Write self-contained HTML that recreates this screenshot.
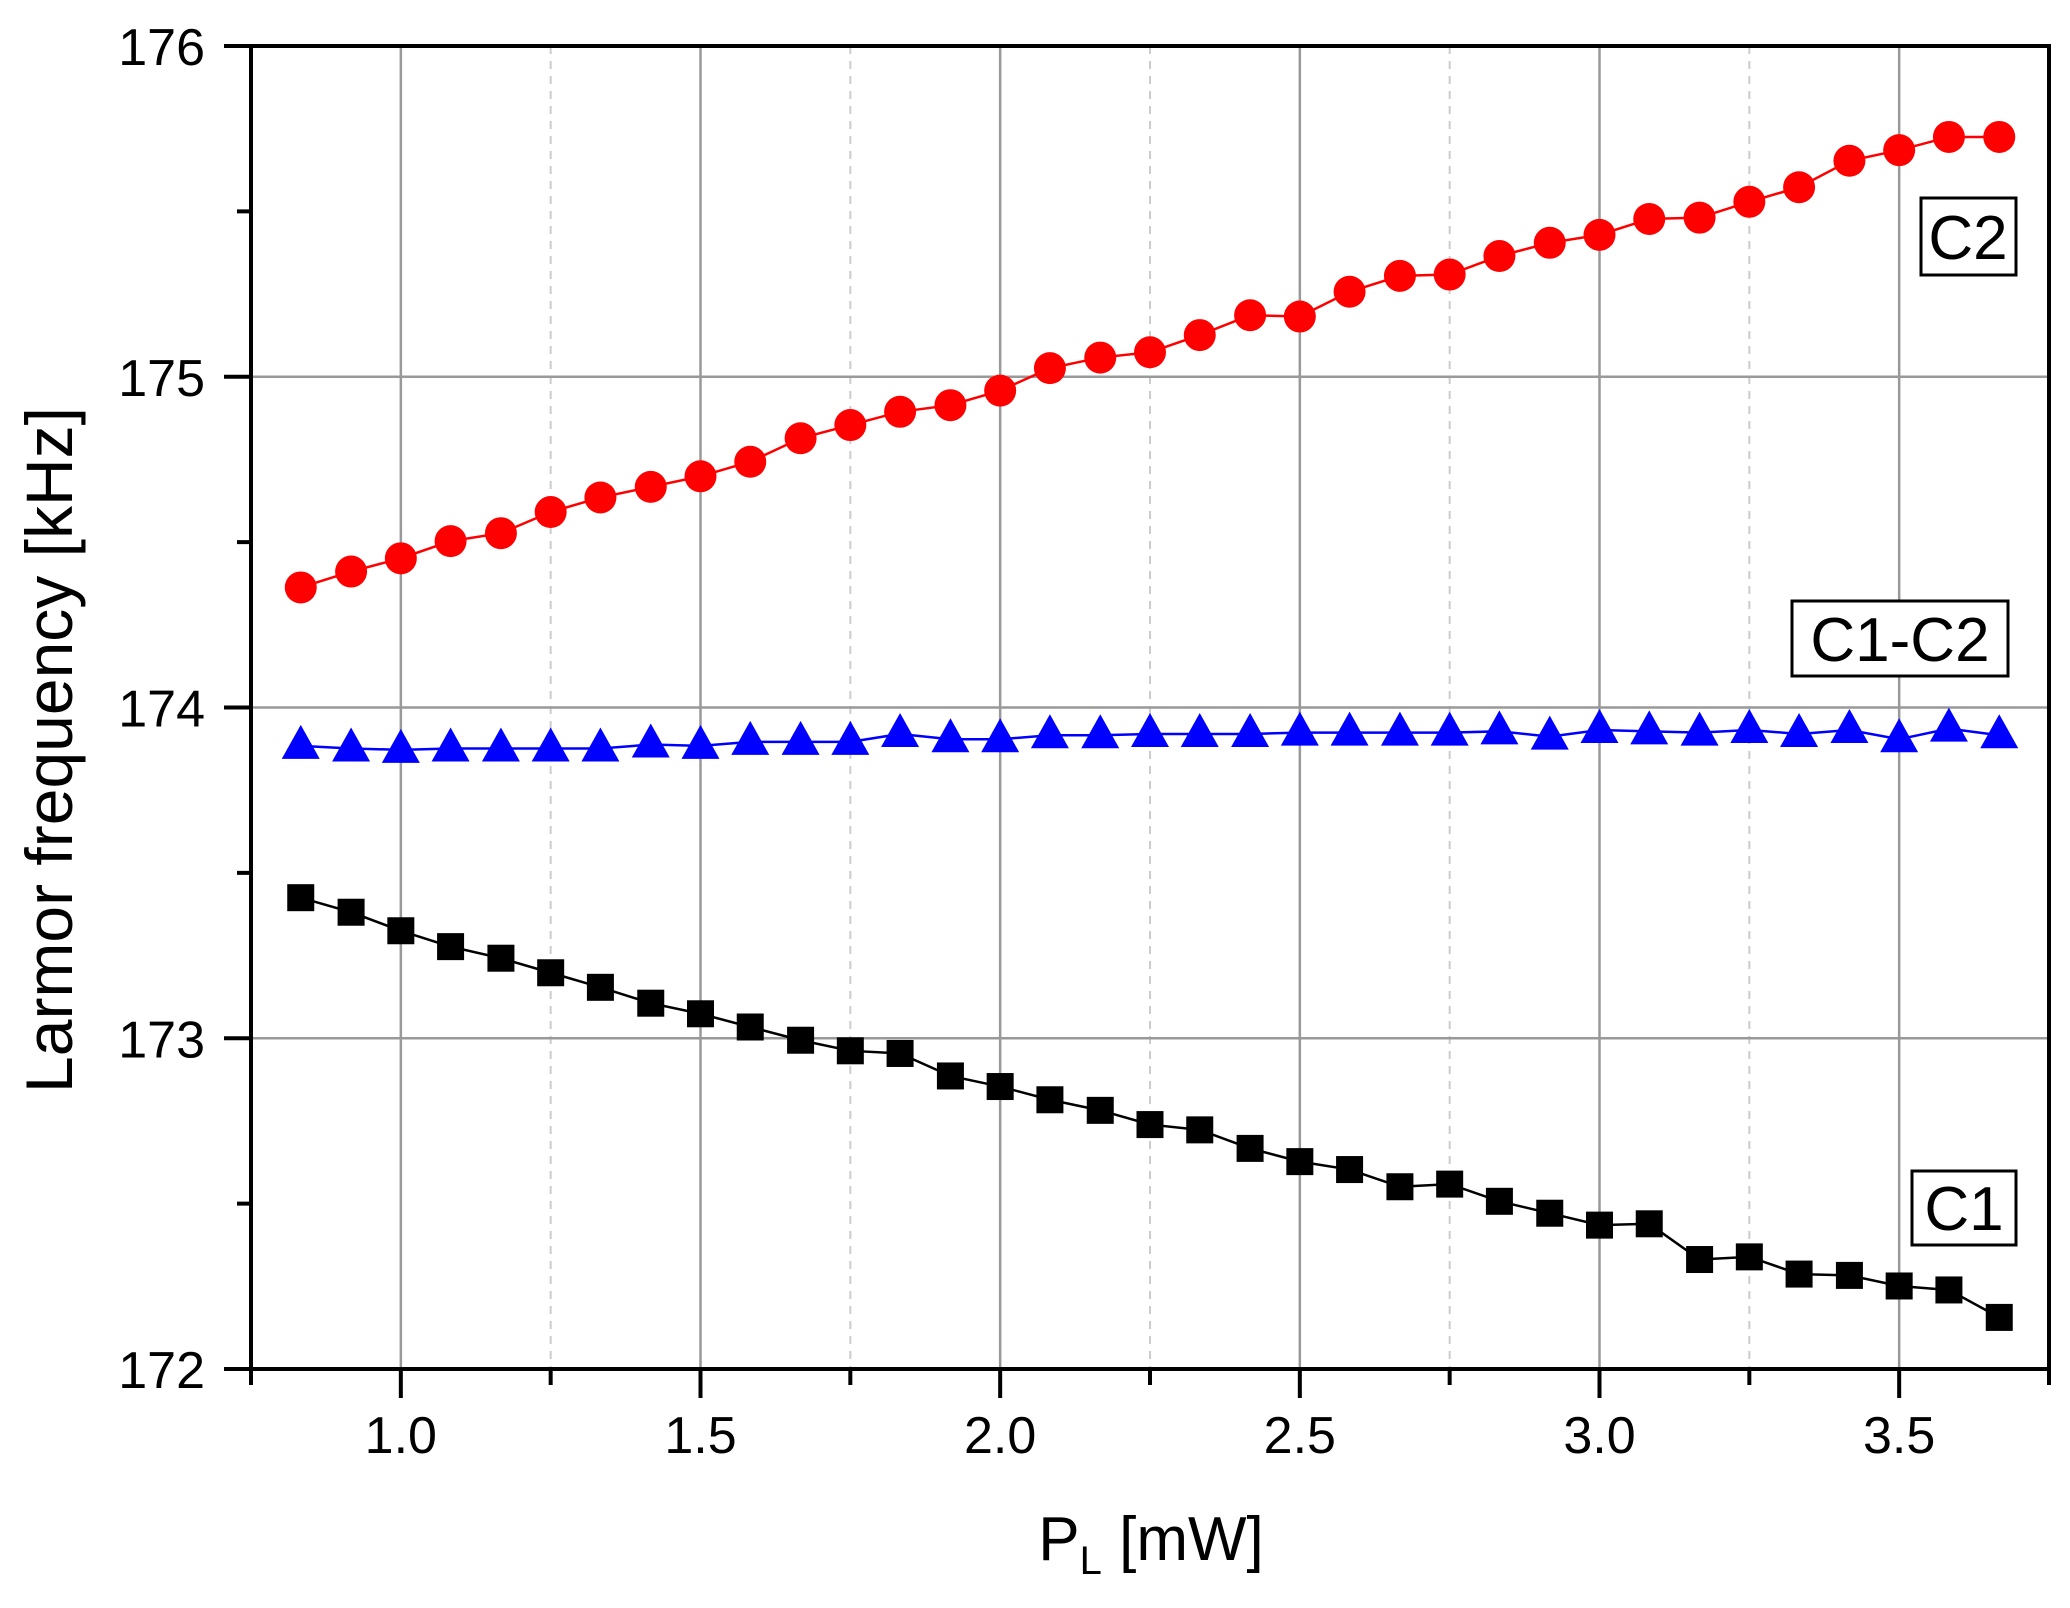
<!DOCTYPE html>
<html><head><meta charset="utf-8"><style>
html,body{margin:0;padding:0;background:#fff;}
svg{display:block;font-family:"Liberation Sans",Arial,sans-serif;}
</style></head><body>
<svg id="chart" width="2070" height="1608" viewBox="0 0 2070 1608" xmlns="http://www.w3.org/2000/svg">
<g id="grid"></g>
<g id="series"></g>
<g id="axes"></g>
<text x="0" y="0" transform="translate(72,750) rotate(-90)" text-anchor="middle" font-size="66">Larmor frequency [kHz]</text>
<text x="1151" y="1560" text-anchor="middle" font-size="62">P<tspan font-size="40" dy="14">L</tspan><tspan dy="-14"> [mW]</tspan></text>
<g><rect x="1921" y="198" width="95" height="77" fill="#fff" stroke="#000" stroke-width="3"/><text x="1968" y="259" text-anchor="middle" font-size="62">C2</text></g>
<g><rect x="1792" y="601" width="216" height="75" fill="#fff" stroke="#000" stroke-width="3"/><text x="1900" y="661" text-anchor="middle" font-size="62">C1-C2</text></g>
<g><rect x="1912" y="1171" width="104" height="74" fill="#fff" stroke="#000" stroke-width="3"/><text x="1964" y="1230" text-anchor="middle" font-size="62">C1</text></g>
</svg>
<script>
const xValues = [0.833,0.917,1.0,1.083,1.167,1.25,1.333,1.417,1.5,1.583,1.667,1.75,1.833,1.917,2.0,2.083,2.167,2.25,2.333,2.417,2.5,2.583,2.667,2.75,2.833,2.917,3.0,3.083,3.167,3.25,3.333,3.417,3.5,3.583,3.667];
const c2Values = [174.363,174.411,174.451,174.503,174.527,174.591,174.635,174.667,174.699,174.743,174.814,174.854,174.894,174.914,174.958,175.026,175.058,175.074,175.126,175.186,175.182,175.257,175.305,175.309,175.365,175.405,175.429,175.477,175.481,175.529,175.573,175.653,175.685,175.725,175.725];
const diffValues = [173.884,173.876,173.872,173.876,173.876,173.876,173.876,173.888,173.884,173.896,173.896,173.896,173.920,173.904,173.904,173.916,173.916,173.920,173.920,173.920,173.924,173.924,173.924,173.924,173.928,173.912,173.932,173.928,173.924,173.932,173.920,173.932,173.904,173.936,173.916];
const c1Values = [173.425,173.381,173.325,173.277,173.242,173.198,173.154,173.106,173.074,173.034,172.994,172.962,172.954,172.886,172.854,172.814,172.782,172.739,172.723,172.667,172.627,172.603,172.551,172.559,172.507,172.471,172.435,172.439,172.331,172.339,172.287,172.283,172.251,172.239,172.156];
const xTickLabels = ["1.0","1.5","2.0","2.5","3.0","3.5"];
const yTickLabels = ["172","173","174","175","176"];

const L=251,R=2049,T=46,B=1369, XMIN=0.75,XMAX=3.75,YMIN=172,YMAX=176;
const sx=v=>L+(v-XMIN)/(XMAX-XMIN)*(R-L);
const sy=v=>B-(v-YMIN)/(YMAX-YMIN)*(B-T);
const NS="http://www.w3.org/2000/svg";
function mk(tag,attrs,parent){const e=document.createElementNS(NS,tag);for(const k in attrs)e.setAttribute(k,attrs[k]);parent.appendChild(e);return e;}
const grid=document.getElementById('grid'),ser=document.getElementById('series'),axes=document.getElementById('axes');

for(let v=1.25;v<3.75;v+=0.5){const l=mk('line',{x1:sx(v),x2:sx(v),y1:T,y2:B,stroke:'#ccc','stroke-width':2,'stroke-dasharray':'8,7'},grid);

}
xTickLabels.forEach(t=>{const v=parseFloat(t);const l=mk('line',{x1:sx(v),x2:sx(v),y1:T,y2:B,stroke:'#999','stroke-width':2.5},grid);

});
yTickLabels.forEach(t=>{const v=parseFloat(t);const l=mk('line',{x1:L,x2:R,y1:sy(v),y2:sy(v),stroke:'#999','stroke-width':2.5},grid);

});

function line(vals,color,name){const pts=xValues.map((x,i)=>sx(x)+','+sy(vals[i])).join(' ');
const p=mk('polyline',{points:pts,fill:'none',stroke:color,'stroke-width':2.5},ser);

}
line(c2Values,'#f00','c2-line');line(diffValues,'#00f','c1-c2-line');line(c1Values,'#000','c1-line');

xValues.forEach((x,i)=>{
const c=mk('circle',{cx:sx(x),cy:sy(c2Values[i]),r:16,fill:'#f00'},ser);


const X=sx(x),Y=sy(diffValues[i]);
const t=mk('polygon',{points:`${X-19},${Y+13} ${X+19},${Y+13} ${X},${Y-21}`,fill:'#00f'},ser);


const s=mk('rect',{x:sx(x)-13.5,y:sy(c1Values[i])-13.5,width:27,height:27,fill:'#000'},ser);


});

const fr=mk('rect',{x:L,y:T,width:R-L,height:B-T,fill:'none',stroke:'#000','stroke-width':4},axes);


for(let v=0.75;v<=3.751;v+=0.25){const major=Math.abs(v*2-Math.round(v*2))<1e-6;
const tk=mk('line',{x1:sx(v),x2:sx(v),y1:B,y2:B+(major?29:16),stroke:'#000','stroke-width':4},axes);

}
xTickLabels.forEach(t=>{const e=mk('text',{x:sx(parseFloat(t)),y:1453,'text-anchor':'middle','font-size':52},axes);e.textContent=t;

});
for(let v=172;v<=176.001;v+=0.5){const major=Math.abs(v-Math.round(v))<1e-6;
const tk=mk('line',{x1:L,x2:L-(major?27:14),y1:sy(v),y2:sy(v),stroke:'#000','stroke-width':4},axes);

}
yTickLabels.forEach(t=>{const e=mk('text',{x:205,y:sy(parseFloat(t))+19,'text-anchor':'end','font-size':52},axes);e.textContent=t;

});
</script>
</body></html>
